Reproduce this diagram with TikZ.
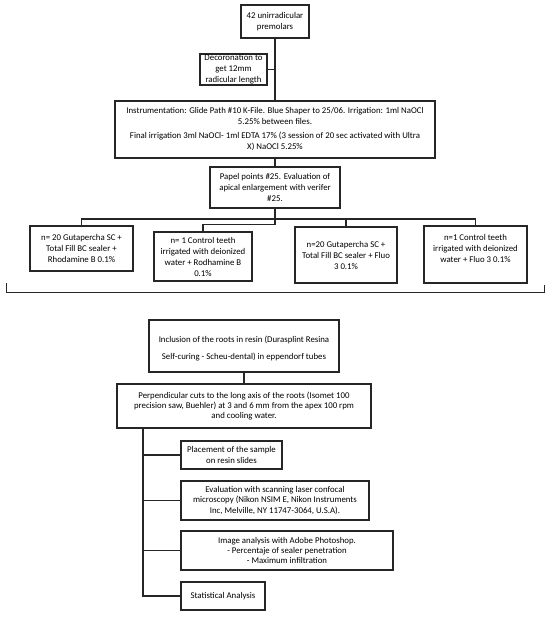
\documentclass[tikz,border=0pt]{standalone}
\usepackage{fontspec}
\setmainfont{Carlito}
\begin{document}
\begin{tikzpicture}[x=1pt,y=-1pt]
\tikzset{
  box/.style={draw=black!85, line width=1.1pt, align=center, inner sep=0pt,
    font=\fontsize{8.8}{11}\selectfont},
  lbox/.style={box, font=\fontsize{8.8}{10.2}\selectfont},
  conn/.style={draw=black!85, line width=1.1pt},
}
\useasboundingbox (0,0) rectangle (550,618);
% top part
\node[box, minimum width=68, minimum height=33] (n1) at (275,21.5) {42 unirradicular\\premolars};
\node[box, minimum width=67, minimum height=31] (deco) at (233.5,69.5) {Decoronation to\\get 12mm\\radicular length};
\node[box, minimum width=320, minimum height=57] (instr) at (275,129.5)
  {Instrumentation: Glide Path \#10 K-File. Blue Shaper to 25/06. Irrigation: 1ml NaOCl\\5.25\% between files.\\[3pt]Final irrigation 3ml NaOCl- 1ml EDTA 17\% (3 session of 20 sec activated with Ultra\\X) NaOCl 5.25\%};
\node[box, minimum width=130, minimum height=41] (papel) at (275,187.5) {Papel points \#25. Evaluation of\\apical enlargement with verifer\\\#25.};
\node[box, minimum width=103, minimum height=45] (gA) at (81.5,248.5) {n= 20 Gutapercha SC +\\Total Fill BC sealer +\\Rhodamine B 0.1\%};
\node[box, minimum width=98, minimum height=49] (gB) at (203,256.5) {n= 1 Control teeth\\irrigated with deionized\\water + Rodhamine B\\0.1\%};
\node[box, minimum width=102, minimum height=56] (gC) at (346,255) {n=20 Gutapercha SC +\\Total Fill BC sealer + Fluo\\3 0.1\%};
\node[box, minimum width=103, minimum height=57] (gD) at (475.5,254.5) {n=1 Control teeth\\irrigated with deionized\\water + Fluo 3 0.1\%\rule[-12pt]{0pt}{0pt}};
% connectors top
\draw[conn] (n1.south) -- (instr.north);
\draw[conn] (deco.east) -- (deco.east -| n1.south);
\draw[conn] (instr.south) -- (papel.north);
\coordinate (bar) at (81.5,219);
\draw[conn] (gA.north) -- (gA.north |- bar) -- (gD.north |- bar) -- (gD.north);
\draw[conn] (gC.north) -- (gC.north |- bar);
\draw[conn] (papel.south) -- ++(0,16) -| (gB.north);
% bracket
\coordinate (bl) at (6,283);
\coordinate (br) at (544,285);
\draw[conn, line width=0.9pt] (bl) -- (6,292) -- (544,292) -- (br);
% lower part
\node[lbox, minimum width=190, minimum height=52] (incl) at (244,346) {\rule{0pt}{12pt}Inclusion of the roots in resin (Durasplint Resina\\[7pt]Self-curing - Scheu-dental) in eppendorf tubes};
\node[lbox, minimum width=254, minimum height=44] (cut) at (244,406) {Perpendicular cuts to the long axis of the roots (Isomet 100\\precision saw, Buehler) at 3 and 6 mm from the apex 100 rpm\\and cooling water.};
\node[lbox, minimum width=101, minimum height=28] (place) at (231.5,455) {Placement of the sample\\on resin slides};
\node[lbox, minimum width=188, minimum height=39] (eval) at (275,500.5) {Evaluation with scanning laser confocal\\microscopy (Nikon NSIM E, Nikon Instruments\\Inc, Melville, NY 11747-3064, U.S.A).};
\node[lbox, minimum width=212, minimum height=39] (img) at (287,550.5) {Image analysis with Adobe Photoshop.\\- Percentaje of sealer penetration\\- Maximum infiltration};
\node[lbox, minimum width=84, minimum height=28] (stat) at (223,596) {Statistical Analysis};
\draw[conn] (incl.south) -- (cut.north);
\coordinate (sp) at (143,0);
\draw[conn] (cut.south -| sp) |- (stat.west);
\draw[conn] (place.west) -- (place.west -| sp);
\draw[conn] (eval.west) -- (eval.west -| sp);
\draw[conn] (img.west) -- (img.west -| sp);
\end{tikzpicture}
\end{document}
